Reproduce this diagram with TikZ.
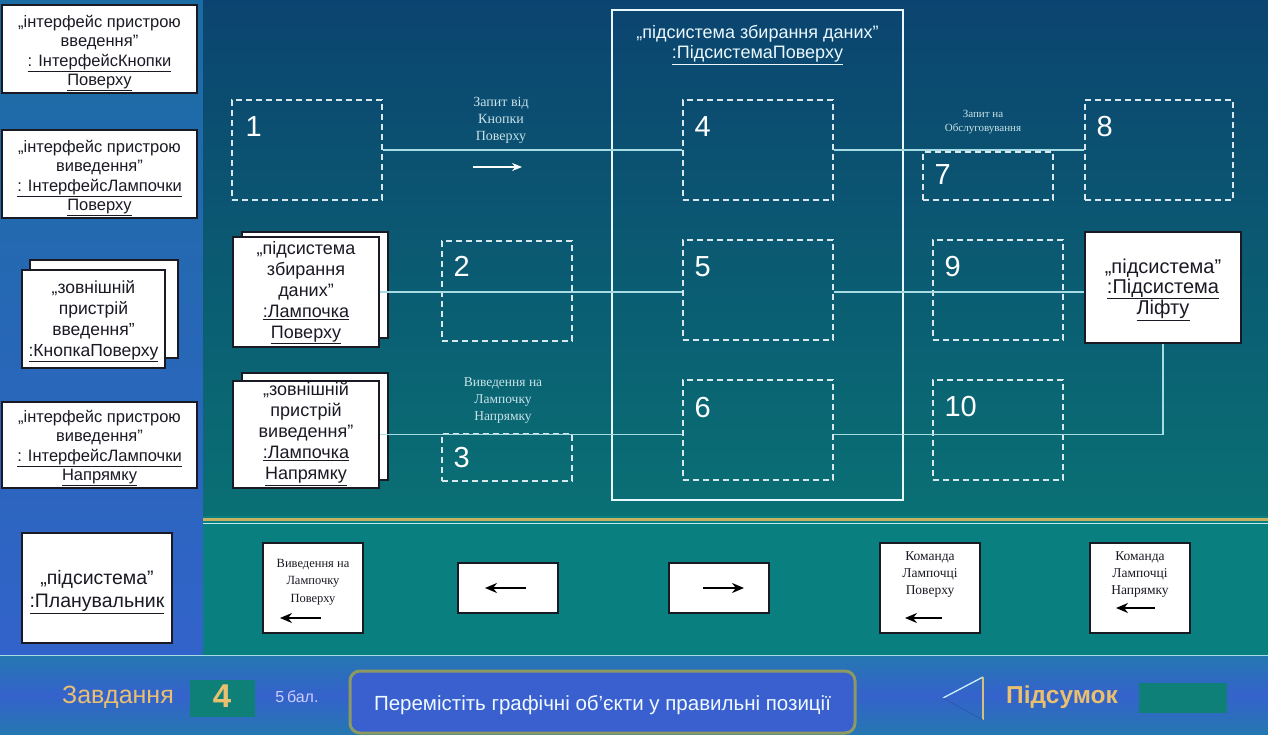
\documentclass[tikz,border=0pt]{standalone}
\usepackage{fontspec}
\setmainfont{Liberation Sans}
\newfontfamily\tms{Liberation Serif}
\usetikzlibrary{arrows.meta,calc}

\definecolor{lefttop}{HTML}{1B6CA2}
\definecolor{leftbot}{HTML}{3263CA}
\definecolor{maintop}{HTML}{0B4470}
\definecolor{mainbot}{HTML}{0A7074}
\definecolor{strip}{HTML}{0A7F80}
\definecolor{barA}{HTML}{2478B0}
\definecolor{barB}{HTML}{3562CC}
\definecolor{gold}{HTML}{C8B060}
\definecolor{linkc}{HTML}{A8DCE4}
\definecolor{dashc}{HTML}{D8E8EC}
\definecolor{msgc}{HTML}{C8E2E8}
\definecolor{labgold}{HTML}{E8C070}
\definecolor{tealbox}{HTML}{0E8078}
\definecolor{ink}{HTML}{1A1A24}
\definecolor{frameol}{HTML}{8C9A62}
\definecolor{pillfill}{HTML}{3A60D0}

\newcommand\ulx[1]{\underline{#1}}
\newcommand\fsz[2]{\fontsize{#1}{#2}\selectfont}

\tikzset{
  umlbox/.style={draw=ink, line width=1.5pt, fill=white, inner sep=0pt},
  heavybox/.style={umlbox, line width=2.5pt},
  umltext/.style={text=ink, align=center, inner sep=0pt},
  slotbox/.style={draw=dashc, dash pattern=on 6pt off 4pt, line width=1.2pt, inner sep=0pt},
  slotnum/.style={text=white, font=\fsz{29}{30}, anchor=west, inner sep=0pt},
  link/.style={draw=linkc, line width=1.2pt},
  msglabel/.style={text=msgc, align=center, inner sep=0pt},
  tilebox/.style={draw=ink, line width=1.2pt, fill=white, inner sep=0pt},
  tiletext/.style={text=ink, align=center, inner sep=0pt, font=\tms\fsz{12.5}{17.5}},
  tilearrow/.style={draw=black, line width=1.6pt, -{Stealth[length=12pt,width=10pt]}},
}

\begin{document}
\begin{tikzpicture}[x=1pt,y=-1pt]
\useasboundingbox (0,0) rectangle (1268,735);

% backgrounds
\shade[top color=lefttop, bottom color=leftbot] (0,0) rectangle (203,655);
\shade[top color=maintop, bottom color=mainbot] (203,0) rectangle (1268,516);
\fill[strip] (203,516) rectangle (1268,655);
\draw[gold, line width=3pt] (203,519) -- (1268,519);
\draw[linkc!70!white, line width=0.8pt] (203,523) -- (1268,523);
\shade[top color=barA, bottom color=barA, middle color=barB] (0,655) rectangle (1268,735);
\draw[linkc, line width=1pt] (0,655) -- (1268,655);

% left column objects
\node[umlbox, minimum width=195pt, minimum height=88pt] (ia) at (99.5,49) {};
\node[umltext, font=\fsz{16.5}{19.5}] (ial) at (99.5,53)
  {„інтерфейс пристрою\\введення"\\\ulx{: ІнтерфейсКнопки}\\\ulx{Поверху}};
\node[umlbox, minimum width=195pt, minimum height=88pt] (ib) at (99.5,174) {};
\node[umltext, font=\fsz{16.5}{19.5}] (ibl) at (99.5,178)
  {„інтерфейс пристрою\\виведення"\\\ulx{: ІнтерфейсЛампочки}\\\ulx{Поверху}};
\node[umlbox, minimum width=148pt, minimum height=98pt] (kb) at (104,309) {};
\node[umlbox, minimum width=143pt, minimum height=98pt] (kf) at (93.5,319) {};
\node[umltext, font=\fsz{17.5}{21}] (kfl) at (93.5,321)
  {„зовнішній\\пристрій\\введення"\\\ulx{:КнопкаПоверху}};
\node[umlbox, minimum width=195pt, minimum height=86pt] (ic) at (99.5,445) {};
\node[umltext, font=\fsz{16.5}{19.5}] (icl) at (99.5,448)
  {„інтерфейс пристрою\\виведення"\\\ulx{: ІнтерфейсЛампочки}\\\ulx{Напрямку}};
\node[heavybox, minimum width=150pt, minimum height=110pt] (plan) at (97,588) {};
\node[umltext, font=\fsz{19.5}{23}] (planl) at (97,592)
  {„підсистема”\\\ulx{:Планувальник}};

% container subsystem
\node[draw=white!90!cyan, line width=1.3pt, minimum width=291pt, minimum height=490pt, inner sep=0pt] (cont) at (757.5,255) {};
\node[text=white!92!cyan, align=center, anchor=north, font=\fsz{18}{20}, inner sep=0pt] (contlab) at ([yshift=-16pt]cont.north)
  {„підсистема збирання даних"\\\ulx{:ПідсистемаПоверху}};

% dashed slots
\node[slotbox, minimum width=150pt, minimum height=100pt] (b1) at (307,150) {};
\node[slotbox, minimum width=150pt, minimum height=100pt] (b4) at (758,150) {};
\node[slotbox, minimum width=130pt, minimum height=48pt] (b7) at (988,176) {};
\node[slotbox, minimum width=148pt, minimum height=100pt] (b8) at (1159,150) {};
\node[slotbox, minimum width=130pt, minimum height=100pt] (b2) at (507,291) {};
\node[slotbox, minimum width=150pt, minimum height=100pt] (b5) at (758,290) {};
\node[slotbox, minimum width=130pt, minimum height=100pt] (b9) at (998,290) {};
\node[slotbox, minimum width=130pt, minimum height=47pt] (b3) at (507,457.5) {};
\node[slotbox, minimum width=150pt, minimum height=100pt] (b6) at (758,430) {};
\node[slotbox, minimum width=130pt, minimum height=100pt] (b10) at (998,430) {};

\node[slotnum] (n1) at ([xshift=14pt,yshift=-27pt]b1.north west) {1};
\node[slotnum] (n4) at ([xshift=12pt,yshift=-27pt]b4.north west) {4};
\node[slotnum] (n7) at ([xshift=12pt,yshift=-23pt]b7.north west) {7};
\node[slotnum] (n8) at ([xshift=12pt,yshift=-27pt]b8.north west) {8};
\node[slotnum] (n2) at ([xshift=12pt,yshift=-26pt]b2.north west) {2};
\node[slotnum] (n5) at ([xshift=12pt,yshift=-27pt]b5.north west) {5};
\node[slotnum] (n9) at ([xshift=12pt,yshift=-27pt]b9.north west) {9};
\node[slotnum] (n3) at ([xshift=12pt,yshift=-24pt]b3.north west) {3};
\node[slotnum] (n6) at ([xshift=12pt,yshift=-28pt]b6.north west) {6};
\node[slotnum] (n10) at ([xshift=12pt,yshift=-27pt]b10.north west) {10};

% stacked objects
\node[umlbox, minimum width=146pt, minimum height=106pt] (s2b) at (315,285) {};
\node[umlbox, minimum width=146pt, minimum height=110pt] (s2) at (306,292) {};
\node[umltext, font=\fsz{18}{21}] (s2l) at (306,292.5)
  {„підсистема\\збирання\\даних"\\\ulx{:Лампочка}\\\ulx{Поверху}};
\node[umlbox, minimum width=146pt, minimum height=107pt] (s3b) at (315,426.5) {};
\node[umlbox, minimum width=146pt, minimum height=107pt] (s3) at (306,434.5) {};
\node[umltext, font=\fsz{18}{21}] (s3l) at (306,434)
  {„зовнішній\\пристрій\\виведення"\\\ulx{:Лампочка}\\\ulx{Напрямку}};
\node[heavybox, minimum width=156pt, minimum height=111pt] (lift) at (1163,287.5) {};
\node[umltext, font=\fsz{20}{19.5}] (liftl) at (1163,290)
  {„підсистема”\\\ulx{:Підсистема}\\\ulx{Ліфту}};

% links
\draw[link] (b1.east) -- (b4.west);
\draw[link] (b4.east) -- (b8.west);
\draw[link] (s2.east) -- (s2.east -| b5.west);
\draw[link] (b5.east |- s2.east) -- (s2.east -| lift.west);
\draw[link] (s3.east) -- (s3.east -| b6.west);
\draw[link] (b6.east |- s3.east) -| (lift.south);

% message labels
\node[msglabel, font=\tms\fsz{14}{17}] (m1) at (501,120) {Запит від\\Кнопки\\Поверху};
\coordinate (m1a) at (473,167);
\coordinate (m1b) at (522,167);
\draw[white, line width=1.3pt, -{Stealth[length=10pt,width=8pt]}] (m1a) -- (m1b);
\node[msglabel, font=\tms\fsz{11}{13.5}] (m2) at (983,122) {Запит на\\Обслуговування};
\node[msglabel, font=\tms\fsz{13.5}{17}] (m3) at (503,401) {Виведення на\\Лампочку\\Напрямку};

% lower strip tiles
\node[tilebox, minimum width=100pt, minimum height=90pt] (t1) at (313,588) {};
\node[tiletext] (t1l) at (313,582) {Виведення на\\Лампочку\\Поверху};
\coordinate (t1a) at (321,618); \coordinate (t1b) at (280,618);
\draw[tilearrow] (t1a) -- (t1b);

\node[tilebox, minimum width=100pt, minimum height=50pt] (t2) at (508,588) {};
\coordinate (t2a) at (526,588); \coordinate (t2b) at (485,588);
\draw[tilearrow] (t2a) -- (t2b);

\node[tilebox, minimum width=100pt, minimum height=50pt] (t3) at (719,588) {};
\coordinate (t3a) at (703,588); \coordinate (t3b) at (744,588);
\draw[tilearrow] (t3a) -- (t3b);

\node[tilebox, minimum width=100pt, minimum height=90pt] (t4) at (930,588) {};
\node[tiletext, font=\tms\fsz{13.5}{17}] (t4l) at (930,575) {Команда\\Лампочці\\Поверху};
\coordinate (t4a) at (942,618); \coordinate (t4b) at (905,618);
\draw[tilearrow] (t4a) -- (t4b);

\node[tilebox, minimum width=100pt, minimum height=90pt] (t5) at (1140,588) {};
\node[tiletext, font=\tms\fsz{13.5}{17}] (t5l) at (1140,575) {Команда\\Лампочці\\Напрямку};
\coordinate (t5a) at (1155,608); \coordinate (t5b) at (1116,608);
\draw[tilearrow] (t5a) -- (t5b);

% bottom bar
\node[text=labgold, font=\fsz{25}{27}, inner sep=0pt] (task) at (118,697) {Завдання};
\node[fill=tealbox, minimum width=65pt, minimum height=37pt, inner sep=0pt] (taskno) at (222.5,698) {};
\node[text=labgold, font=\bfseries\fsz{33}{34}, inner sep=0pt] (tasknol) at (222,696) {4};
\node[text=white!80!blue, font=\fsz{16}{18}, inner sep=0pt] (pts) at (297,697) {5\,бал.};
\node[draw=frameol, line width=3pt, rounded corners=10pt, fill=pillfill, minimum width=505pt, minimum height=62pt, inner sep=0pt] (pill) at (602.5,702) {};
\node[text=white!94!cyan, font=\fsz{20.5}{22}, inner sep=0pt] (pilltxt) at (602.5,705) {Перемістіть графічні об’єкти у правильні позиції};
\coordinate (tria) at (943,698);
\coordinate (trib) at (983,677);
\coordinate (tric) at (983,720);
\draw[white!80!cyan, line width=1.3pt] (tria) -- (trib);
\draw[gold!80!white, line width=1.3pt] (trib) -- (tric);
\draw[barB!85!black, line width=0.6pt] (tric) -- (tria);
\node[text=labgold, font=\bfseries\fsz{24.5}{26}, inner sep=0pt] (sum) at (1062,697) {Підсумок};
\node[fill=tealbox, minimum width=88pt, minimum height=30pt, inner sep=0pt] (sumbox) at (1183,698) {};
\end{tikzpicture}
\end{document}
